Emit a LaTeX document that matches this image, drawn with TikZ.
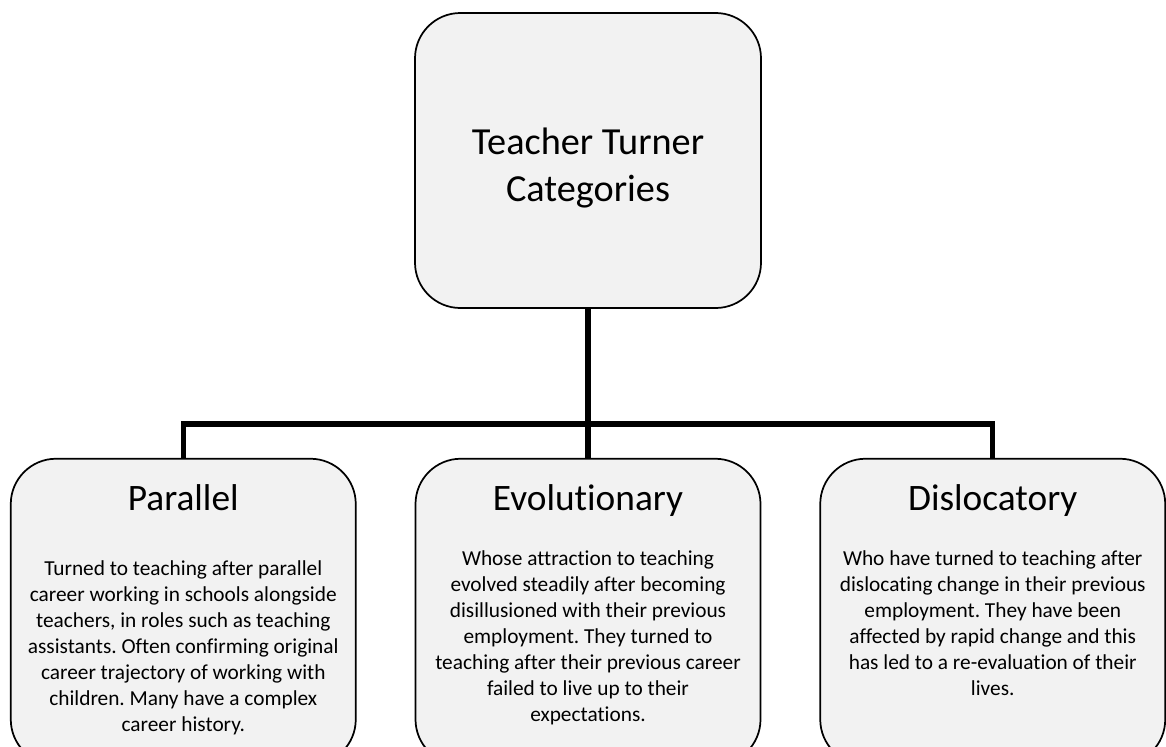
\documentclass[tikz,border=0pt]{standalone}
\usepackage{fontspec}
\setmainfont{Carlito}[Ligatures=NoCommon]
\usetikzlibrary{positioning}
\definecolor{cardgray}{HTML}{F2F2F2}
\frenchspacing

\begin{document}
\begin{tikzpicture}[
			x=0.75pt, y=-0.75pt,
			node distance=43.5pt,
			card/.style={draw, line width=1.3pt, fill=cardgray, rounded corners=34pt,
				minimum width=258.75pt, minimum height=229.5pt, inner sep=0pt},
			head/.style={font=\fontsize{28}{35.25}\selectfont, inner sep=0pt},
			blurb/.style={font=\fontsize{16}{19.5}\selectfont, align=center, inner sep=0pt, anchor=north},
			wire/.style={line width=4pt}
			]
			\useasboundingbox (0,0) rectangle (1166,746);
			\node[card, minimum width=259.5pt, minimum height=221.25pt] (root) at (588,160.5) {};
			\node[head, font=\fontsize{28.7}{35.25}\selectfont, align=center, anchor=north] (rootT) at ([yshift=-87pt]root.north) {Teacher Turner\\Categories};
			\node[card, below=111.75pt of root] (evo) {};
			\node[card, left=of evo] (par) {};
			\node[card, right=of evo] (dis) {};
			\coordinate[below=86.25pt of root] (hub);
			\draw[wire] (root) -- (hub);
			\draw[wire] (par) |- (hub) -| (dis);
			\draw[wire] (evo) -- (hub);
			\node[head, anchor=base] (parH) at ([yshift=-39.75pt]par.north) {Parallel};
			\node[head, anchor=base] (evoH) at ([yshift=-39.75pt]evo.north) {Evolutionary};
			\node[head, anchor=base] (disH) at ([yshift=-39.75pt]dis.north) {Dislocatory};
			\node[blurb] (parB) at ([yshift=-77.25pt]par.north) {Turned to teaching after parallel\\career working in schools alongside\\teachers, in roles such as teaching\\assistants. Often confirming original\\career trajectory of working with\\children. Many have a complex\\career history.};
			\node[blurb] (evoB) at ([yshift=-69.75pt]evo.north) {Whose attraction to teaching\\evolved steadily after becoming\\disillusioned with their previous\\employment. They turned to\\teaching after their previous career\\failed to live up to their\\expectations.};
			\node[blurb] (disB) at ([yshift=-69.75pt]dis.north) {Who have turned to teaching after\\dislocating change in their previous\\employment. They have been\\affected by rapid change and this\\has led to a re-evaluation of their\\lives.};
		\end{tikzpicture}
\end{document}
